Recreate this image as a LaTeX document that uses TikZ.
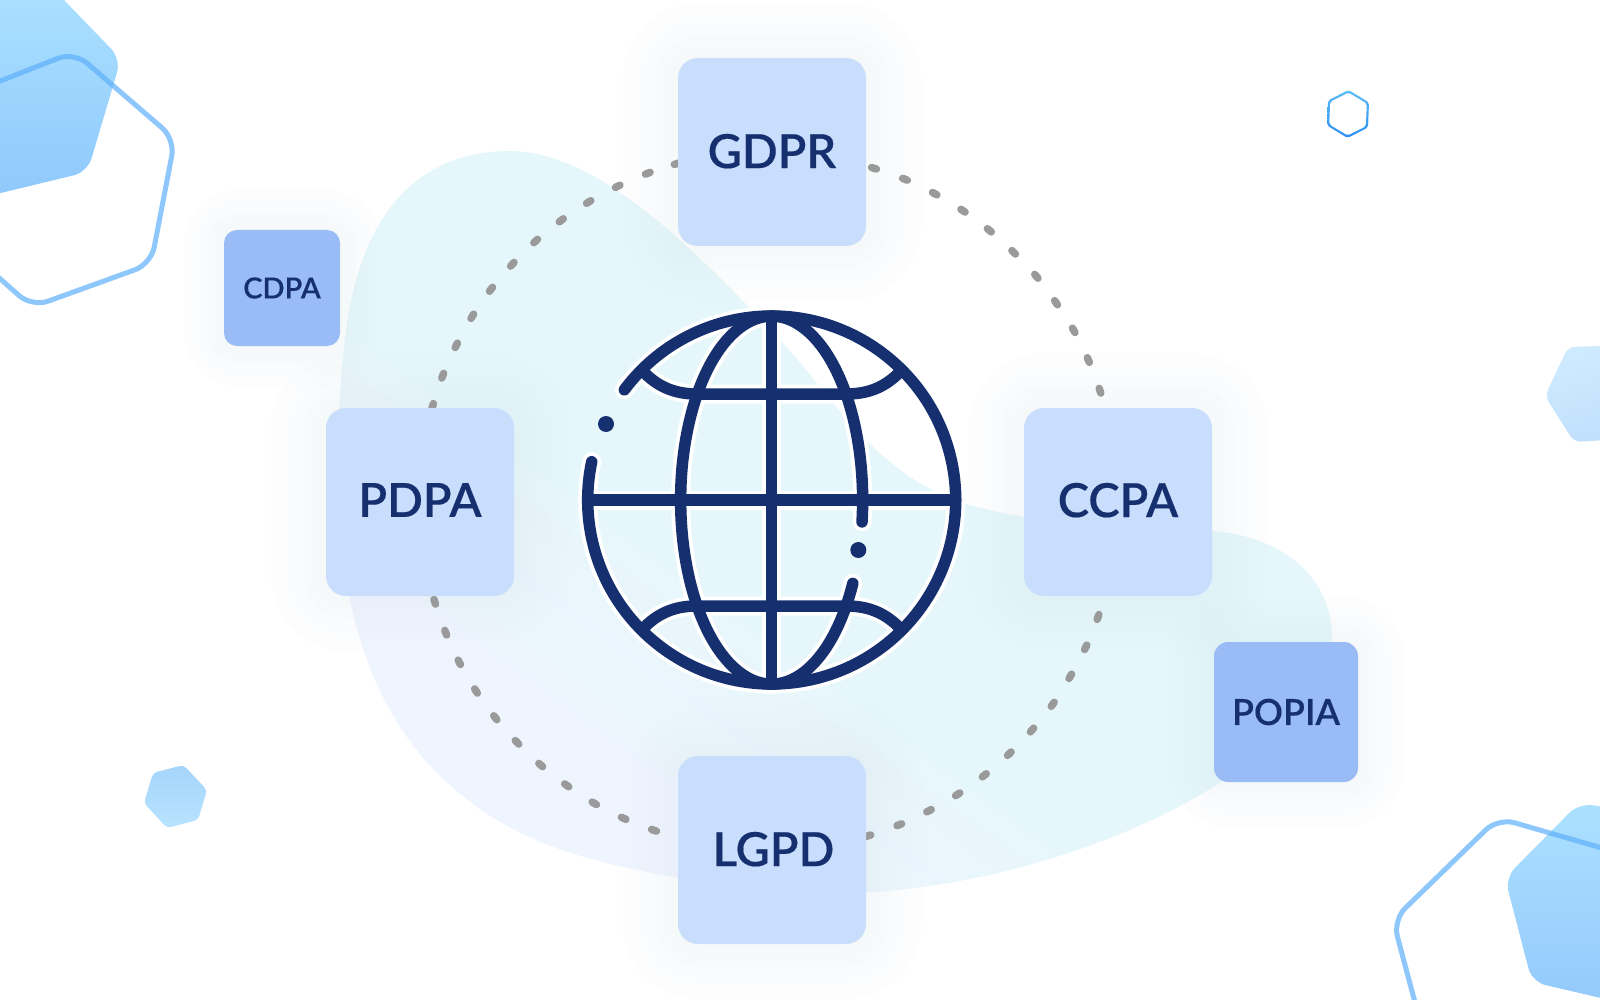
\documentclass[tikz,border=0pt]{standalone}
\usepackage{fontspec}
\setmainfont{Lato Semibold}[FakeBold=0.3]
\definecolor{navy}{HTML}{16306F}
\definecolor{boxbig}{HTML}{C9DDFD}
\definecolor{boxsmall}{HTML}{9ABCF6}
\definecolor{ringgray}{HTML}{9A9A9A}
\definecolor{hexline}{HTML}{5FB0FB}
\definecolor{shadowtone}{RGB}{185,190,205}
\definecolor{blobA}{HTML}{EFF5FE}
\definecolor{blobB}{HTML}{E5F7FB}
\definecolor{blobC}{HTML}{E7F5F7}
\pgfdeclareverticalshading{blobshade}{100bp}{color(0bp)=(blobA); color(30bp)=(blobA); color(44bp)=(blobB); color(70bp)=(blobB); color(100bp)=(blobC)}
\tikzset{
  bigbox/.style={fill=boxbig,rounded corners=20pt,minimum width=188pt,minimum height=188pt,inner sep=0pt,text=navy,font=\fontsize{47}{58}\selectfont},
  smallbox/.style={fill=boxsmall,rounded corners=14pt,inner sep=0pt,text=navy},
  shadowlayer/.style={fill=shadowtone,opacity=0.015},
  ringdot/.style={draw=ringgray,line width=7.5pt,line cap=round},
  hexstroke/.style={draw=hexline,draw opacity=0.7,line width=5pt,rounded corners=17pt},
  globehalo/.style={draw=white,line width=19pt,line cap=round},
  globeline/.style={draw=navy,line width=11.5pt,line cap=round},
}
\newcommand{\softshadow}[6]{%
  \foreach \k in {1,...,5}{%
    \pgfmathsetmacro{\gr}{\k*#6}%
    \pgfmathsetmacro{\gc}{#5+\k*#6}%
    \fill[shadowlayer,rounded corners=\gc pt] (#1-\gr,#2-\gr) rectangle (#3+\gr,#4+\gr);
  }}
\newcommand{\globepaths}[1]{%
  \draw[#1] (143.2:184pt) arc[start angle=143.2,end angle=-192,radius=184pt];
  \draw[#1] (81.1,-83.4) arc[start angle=-26.9,end angle=-366.8,x radius=91pt,y radius=184pt];
  \draw[#1] (-184,0) -- (184,0);
  \draw[#1] (0,-184) -- (0,184);
  \draw[#1] (-129,129) .. controls (-115,114) and (-98,106) .. (-75,106) -- (75,106) .. controls (98,106) and (115,114) .. (129,129);
  \draw[#1] (-129,-129) .. controls (-115,-114) and (-98,-106) .. (-75,-106) -- (75,-106) .. controls (98,-106) and (115,-114) .. (129,-129);
}
\begin{document}
\begin{tikzpicture}[x=1pt,y=-1pt]
\useasboundingbox (0,0) rectangle (1600,1000);
\clip (0,0) rectangle (1600,1000);
\fill[white] (0,0) rectangle (1600,1000);
% blob
\shade[shading=blobshade,shading angle=-36]
  (510,151) .. controls (600,151) and (700,255) .. (780,340)
  .. controls (830,392) and (870,470) .. (960,502)
  .. controls (1050,530) and (1150,525) .. (1214,531)
  .. controls (1280,537) and (1335,575) .. (1332,645)
  .. controls (1330,700) and (1280,745) .. (1224,780)
  .. controls (1150,830) and (1010,885) .. (860,893)
  .. controls (760,893) and (620,875) .. (541,842)
  .. controls (440,800) and (375,720) .. (350,600)
  .. controls (335,520) and (335,420) .. (345,340)
  .. controls (355,240) and (400,151) .. (510,151) -- cycle;
% hexagons
\shade[top color={rgb,255:red,171;green,225;blue,255},bottom color={rgb,255:red,143;green,201;blue,252},rounded corners=14pt] (64,0) -- (121,59) -- (87.5,172) -- (-20,198) -- (-20,-20) -- (44,-20) -- cycle;
\draw[hexstroke] (-20,89) -- (74,52) -- (175,139) -- (151,264) -- (32,307) -- (-20,261);
\shade[top color={rgb,255:red,171;green,225;blue,255},bottom color={rgb,255:red,147;green,201;blue,251},rounded corners=14pt] (1579,803) -- (1505,878) -- (1532,982) -- (1640,1007) -- (1640,813) -- cycle;
\draw[hexstroke] (1425,1040) -- (1393,920) -- (1498,818) -- (1640,859);
\shade[top color={rgb,255:red,207;green,235;blue,255},bottom color={rgb,255:red,192;green,223;blue,252},rounded corners=7pt,shading angle=20] (1568,347) -- (1545,396) -- (1574,442) -- (1640,438) -- (1640,345) -- cycle;
\shade[top color={rgb,255:red,165;green,212;blue,251},bottom color={rgb,255:red,184;green,228;blue,255},rounded corners=4pt] (183.5,765) -- (207,790) -- (198,820) -- (167,828) -- (144,803) -- (153,773) -- cycle;
\shade[top color={rgb,255:red,91;green,188;blue,248},bottom color={rgb,255:red,45;green,143;blue,242},even odd rule,rounded corners=2pt]
  (1348.5,90) -- (1369,102.5) -- (1368,127.5) -- (1347.5,138) -- (1327,125.5) -- (1328,100.5) -- cycle
  (1348.5,92.5) -- (1366.8,103.5) -- (1365.9,126.3) -- (1347.5,135.5) -- (1329.2,124.5) -- (1330.1,101.7) -- cycle;
% shadows
\softshadow{678}{58}{866}{246}{20}{11}
\softshadow{326}{408}{514}{596}{20}{11}
\softshadow{1024}{408}{1212}{596}{20}{11}
\softshadow{678}{756}{866}{944}{20}{11}
\softshadow{224}{230}{340}{346}{13}{8}
\softshadow{1214}{642}{1358}{782}{14}{9}
% dotted ring
\foreach \px/\py in {432.7/406,442.7/375.7,456.3/345.3,472.3/316.3,491/289.3,512.3/264.3,535.7/241,561.3/220.3,588.7/202,617.7/186.3,647.7/173.3,676.7/163.7,
  874/168.3,905/179.3,934.7/193.7,963/210.7,989.3/230.3,1013.7/252.3,1036.3/276.3,1056/302.7,1073.7/330.3,1088.3/360,1100/390.7,
  434.7/601.7,445.7/632.7,459.3/662.3,476/691,495.3/717.7,517/742.3,540.7/765,566.7/785.3,594.3/803.3,623.7/818.3,654/830.3,
  1098/617,1085.7/647.3,1070.3/676.3,1052.7/704.3,1032/730,1009.3/753.7,984.3/775.3,957.7/794.3,929/810.7,899.3/824.7,868.3/835.7}{%
  \pgfmathsetmacro{\ang}{atan2(\py-500,\px-770)}%
  \draw[ringdot] ({\px-2.5*sin(\ang)},{\py+2.5*cos(\ang)}) -- ({\px+2.5*sin(\ang)},{\py-2.5*cos(\ang)});
}
% boxes
\node[bigbox] (gdpr) at (772,152) {\raisebox{2pt}{GDPR}\hspace{4pt}};
\node[bigbox] (pdpa) at (420,502) {\raisebox{4pt}{PDPA}\hspace{3pt}};
\node[bigbox] (ccpa) at (1118,502) {\raisebox{4pt}{CCPA}};
\node[bigbox] (lgpd) at (772,850) {\hspace{3pt}\raisebox{2pt}{LGPD}};
\node[smallbox,rounded corners=13pt,minimum width=116pt,minimum height=116pt,font=\fontsize{29}{35}\selectfont] (cdpa) at (282,288) {CDPA};
\node[smallbox,minimum width=144pt,minimum height=140pt,font=\fontsize{36}{44}\selectfont] (popia) at (1286,712) {\raisebox{-2pt}{POPIA}};
% globe
\begin{scope}[shift={(771.7,500)},y=1pt]
\globepaths{globehalo}
\globepaths{globeline}
\fill[navy] (-165.7,76) circle[radius=8pt];
\fill[navy] (86.6,-50) circle[radius=8pt];
\end{scope}
\end{tikzpicture}
\end{document}
